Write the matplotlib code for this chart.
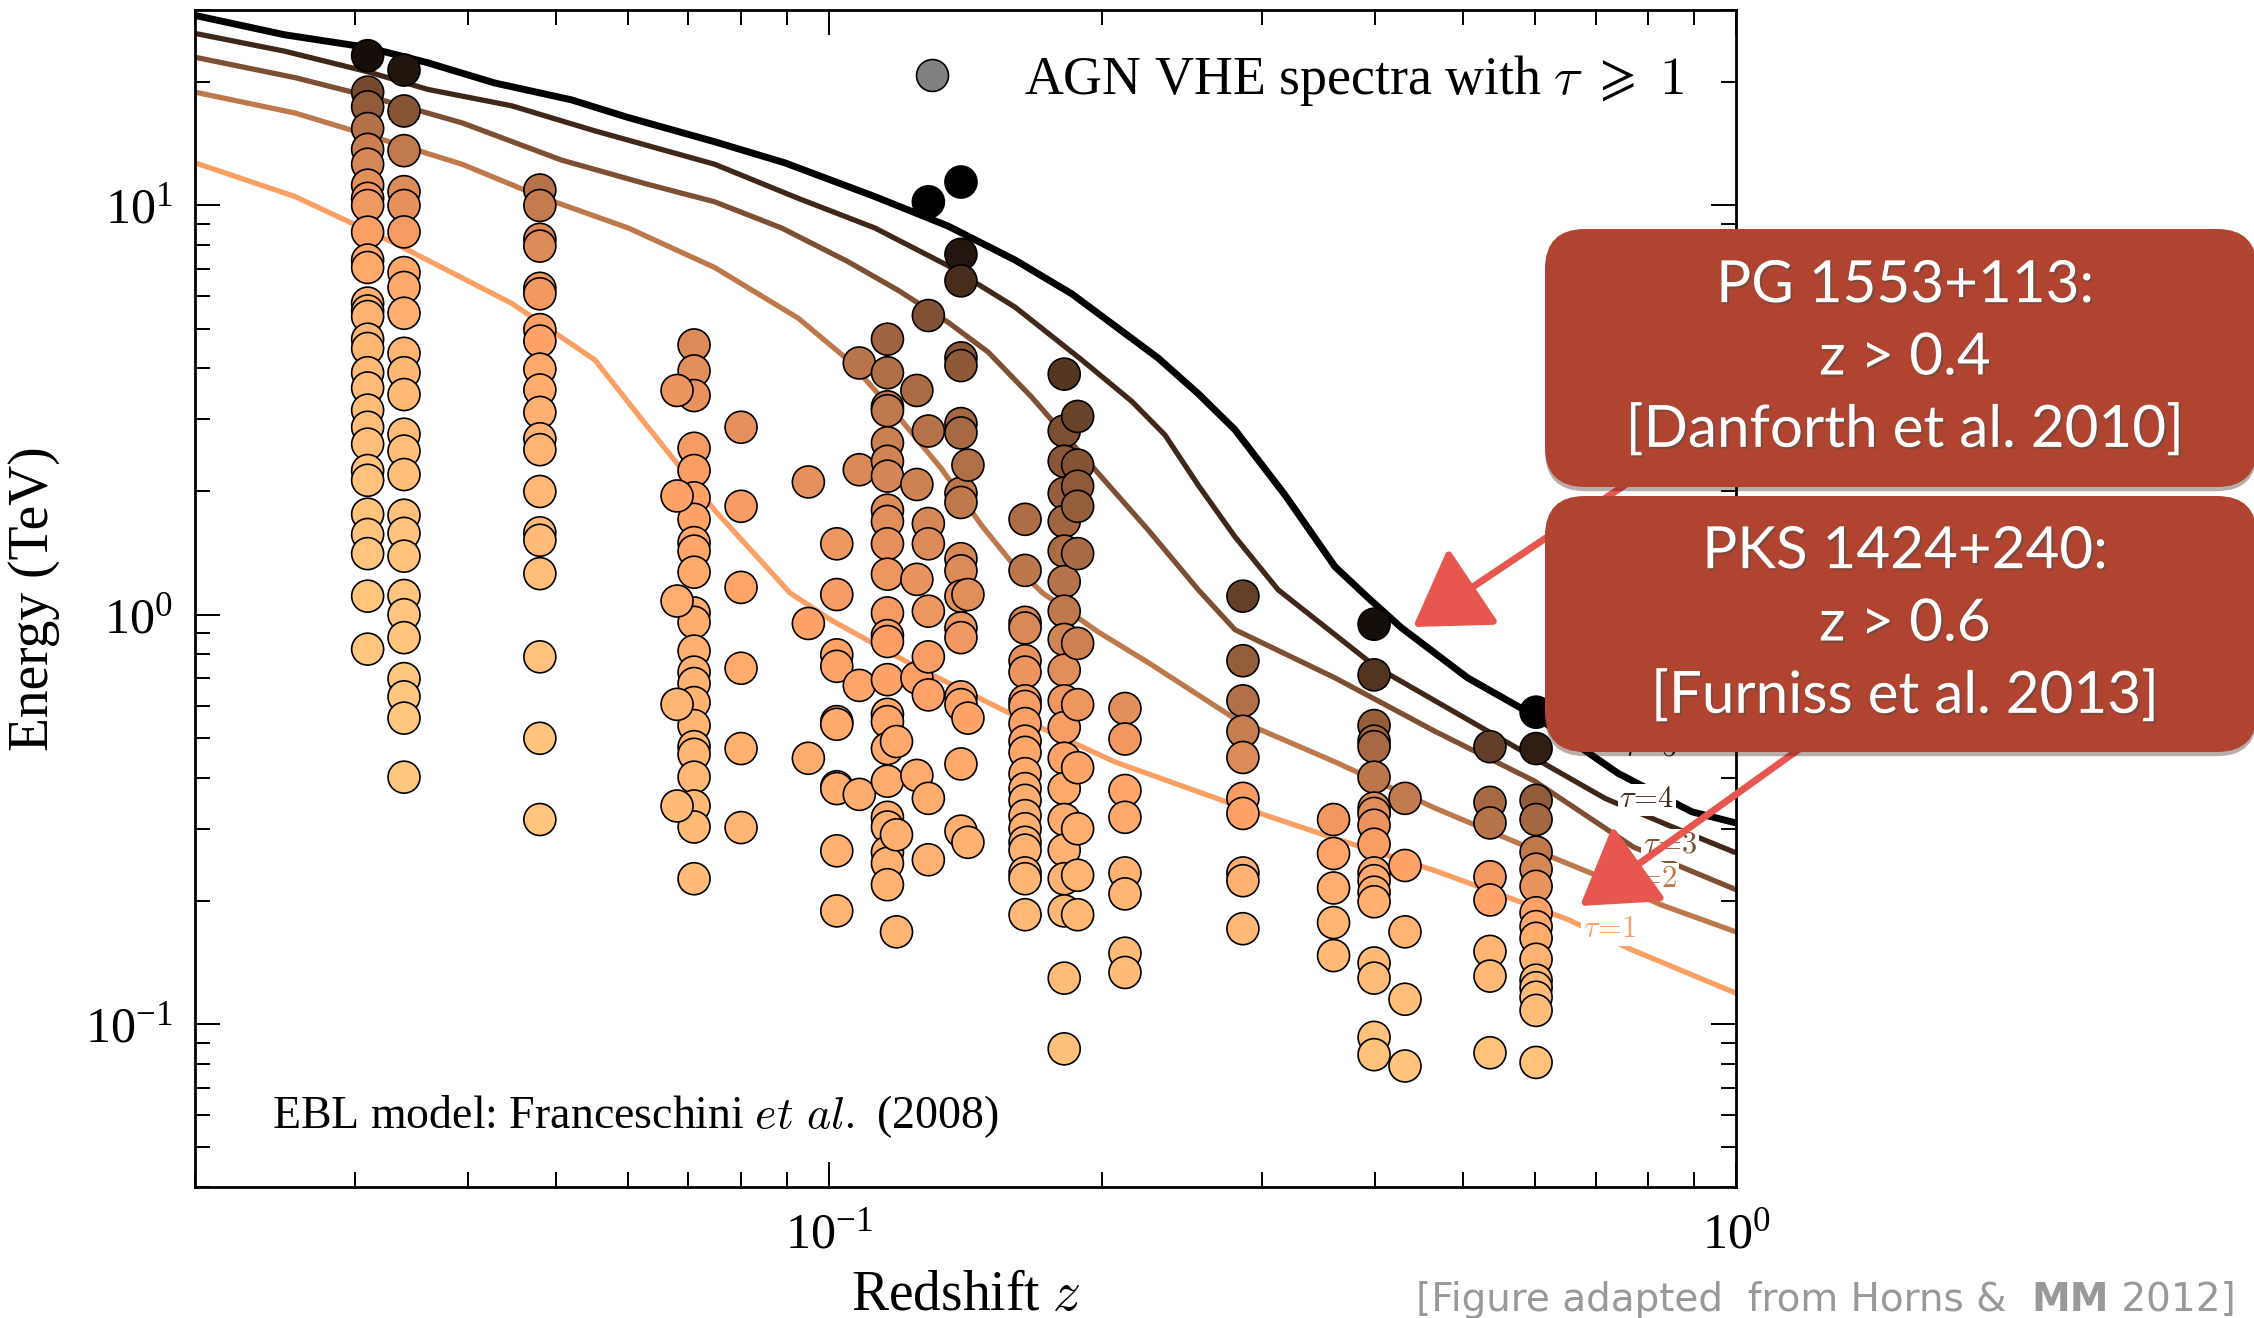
import numpy as np
import matplotlib
matplotlib.use('Agg')
import matplotlib.pyplot as plt
import matplotlib.patheffects as pe
from matplotlib.lines import Line2D
from matplotlib.patches import FancyBboxPatch, FancyArrowPatch
from matplotlib.text import Annotation
from matplotlib.colors import Normalize
from matplotlib.ticker import NullFormatter

plt.rcParams['font.family'] = 'serif'
plt.rcParams['font.serif'] = ['Liberation Serif', 'DejaVu Serif']
plt.rcParams['mathtext.fontset'] = 'cm'

################################################################################
# optical depth curves (Franceschini 2008)

tau_levels = [1, 2, 3, 4, 5]

tau1_z = [0.020, 0.0258, 0.0332, 0.0447, 0.0552, 0.0627, 0.0748, 0.0906, 0.1007,
          0.1244, 0.1604, 0.2066, 0.2803, 0.3613, 0.4657, 0.600, 0.653, 0.767, 1.0]
tau1_E = [12.7, 10.5, 8.08, 5.76, 4.19, 2.93, 1.80, 1.13, 0.968,
          0.748, 0.566, 0.437, 0.343, 0.284, 0.237, 0.193, 0.180, 0.152, 0.119]

tau2_z = [0.020, 0.0258, 0.0318, 0.0394, 0.0486, 0.0601, 0.0748, 0.0925, 0.105, 0.1192,
          0.1331, 0.1474, 0.1604, 0.172, 0.198, 0.2249, 0.2803, 0.3613, 0.4657, 0.600,
          0.708, 0.8246, 1.0]
tau2_E = [18.9, 16.8, 14.6, 12.6, 10.4, 8.80, 7.05, 5.30, 4.19, 3.05,
          2.27, 1.65, 1.31, 1.13, 0.908, 0.764, 0.557, 0.437, 0.337, 0.266,
          0.229, 0.196, 0.168]

tau3_z = [0.020, 0.0258, 0.031, 0.0394, 0.0507, 0.0627, 0.0748, 0.0887, 0.105, 0.1192,
          0.1353, 0.1498, 0.1673, 0.190, 0.2249, 0.2554, 0.2803, 0.3613, 0.4657, 0.600,
          0.770, 1.0]
tau3_E = [23.0, 20.5, 18.5, 15.9, 12.9, 11.3, 10.2, 8.80, 7.28, 6.20,
          5.18, 4.38, 3.40, 2.46, 1.61, 1.15, 0.919, 0.701, 0.519, 0.392,
          0.271, 0.213]

tau4_z = [0.020, 0.0251, 0.031, 0.0361, 0.0447, 0.0552, 0.0748, 0.0925, 0.1124, 0.1353,
          0.1604, 0.190, 0.2157, 0.2346, 0.2554, 0.2803, 0.3128, 0.400, 0.507, 0.600,
          0.717, 0.839, 1.0]
tau4_E = [26.3, 23.8, 21.2, 19.2, 17.5, 15.2, 12.6, 10.4, 8.80, 7.12,
          5.64, 4.19, 3.32, 2.75, 2.07, 1.55, 1.15, 0.748, 0.553, 0.446,
          0.356, 0.307, 0.262]

tau5_z = [0.020, 0.0251, 0.031, 0.0361, 0.0428, 0.052, 0.060, 0.0748, 0.0894, 0.1124,
          0.1353, 0.1604, 0.1852, 0.2305, 0.2552, 0.2803, 0.3183, 0.3613, 0.393, 0.428,
          0.506, 0.600, 0.741, 0.894, 1.0]
tau5_E = [29.1, 26.1, 24.3, 22.3, 19.9, 18.1, 16.4, 14.3, 12.7, 10.5,
          8.9, 7.35, 6.08, 4.24, 3.47, 2.83, 1.96, 1.31, 1.10, 0.928,
          0.701, 0.566, 0.41, 0.33, 0.31]

# inline label positions for the curves
label_z = [0.726, 0.804, 0.846, 0.798, 0.804]
label_E = [0.170, 0.2255, 0.274, 0.353, 0.473]

################################################################################
# AGN VHE spectral points, one list of energies (TeV) per redshift

col_z = [0.031, 0.034, 0.048, 0.071, 0.068, 0.080, 0.0949, 0.102, 0.108, 0.116,
         0.1187, 0.125, 0.1287, 0.1398, 0.1423, 0.1645, 0.1817, 0.188, 0.212, 0.286,
         0.360, 0.399, 0.4316, 0.5355, 0.602]
col_E = [
  [23.2, 18.9, 17.4, 15.4, 13.7, 12.6, 11.2, 10.4, 9.99, 8.6, 7.35, 7.05, 5.77, 5.52,
   5.35, 4.71, 4.47, 3.90, 3.58, 3.16, 2.87, 2.61, 2.25, 2.13, 1.76, 1.57, 1.41, 1.11, 0.824],
  [21.4, 17.0, 13.6, 10.8, 9.99, 8.61, 6.85, 6.30, 5.45, 4.35, 3.90, 3.45, 2.76, 2.51,
   2.20, 1.75, 1.58, 1.39, 1.114, 1.00, 0.879, 0.698, 0.630, 0.559, 0.401],
  [10.9, 9.99, 8.26, 7.95, 6.27, 6.08, 4.97, 4.66, 3.98, 3.54, 3.12, 2.69, 2.53, 2.00,
   1.585, 1.52, 1.26, 0.789, 0.499, 0.316],
  [4.56, 3.94, 3.43, 2.55, 2.25, 1.93, 1.71, 1.50, 1.43, 1.27, 1.01, 0.958, 0.815, 0.724,
   0.679, 0.610, 0.536, 0.476, 0.456, 0.401, 0.341, 0.303, 0.2265],
  [3.53, 1.95, 1.08, 0.604, 0.341],
  [2.87, 1.84, 1.166, 0.740, 0.471, 0.302],
  [2.11, 0.952, 0.446],
  [1.49, 1.12, 0.798, 0.748, 0.548, 0.540, 0.380, 0.376, 0.265, 0.189],
  [4.12, 2.26, 0.672, 0.364],
  [4.71, 3.90, 3.22, 3.15, 2.63, 2.37, 2.18, 1.80, 1.69, 1.49, 1.256, 1.01, 0.889, 0.860,
   0.694, 0.571, 0.548, 0.471, 0.392, 0.320, 0.303, 0.263, 0.247, 0.219],
  [0.49, 0.29, 0.168],
  [3.53, 2.08, 1.22, 0.701, 0.405],
  [10.2, 5.38, 2.81, 1.67, 1.49, 1.02, 0.789, 0.637, 0.356, 0.252],
  [11.4, 7.59, 6.54, 4.24, 4.06, 2.93, 2.78, 1.98, 1.88, 1.37, 1.28, 1.11, 0.928, 0.879,
   0.630, 0.603, 0.432, 0.296],
  [2.32, 1.12, 0.559, 0.278],
  [1.71, 1.283, 0.958, 0.928, 0.772, 0.724, 0.616, 0.597, 0.542, 0.491, 0.461, 0.409,
   0.376, 0.352, 0.323, 0.300, 0.278, 0.266, 0.234, 0.2265, 0.185],
  [3.87, 2.81, 2.37, 1.98, 1.69, 1.43, 1.204, 1.02, 0.870, 0.732, 0.616, 0.530, 0.446,
   0.376, 0.316, 0.266, 0.2265, 0.189, 0.1295, 0.087],
  [3.05, 2.32, 2.06, 1.84, 1.41, 0.851, 0.603, 0.423, 0.300, 0.231, 0.185],
  [0.590, 0.497, 0.372, 0.320, 0.234, 0.208, 0.149, 0.1337],
  [1.11, 0.772, 0.616, 0.519, 0.448, 0.356, 0.327, 0.234, 0.224, 0.171],
  [0.316, 0.261, 0.215, 0.177, 0.147],
  [0.948, 0.713, 0.536, 0.491, 0.476, 0.401, 0.337, 0.327, 0.306, 0.275, 0.234, 0.224,
   0.210, 0.199, 0.141, 0.1295, 0.0928, 0.0842],
  [0.356, 0.244, 0.168, 0.115, 0.079],
  [0.476, 0.348, 0.310, 0.229, 0.201, 0.1505, 0.131, 0.0851],
  [0.578, 0.471, 0.352, 0.316, 0.263, 0.239, 0.217, 0.187, 0.173, 0.162, 0.144, 0.128,
   0.1227, 0.1163, 0.108, 0.0806],
]

################################################################################

curves = [(tau1_z, tau1_E), (tau2_z, tau2_E), (tau3_z, tau3_E),
          (tau4_z, tau4_E), (tau5_z, tau5_E)]

cmap = plt.get_cmap('copper_r')
norm = Normalize(0, 5)

# optical depth of a point, from the curves (log-log interpolation)
def tau_of(z, E):
  lz = np.log10(z)
  lc = np.array([np.interp(lz, np.log10(cz), np.log10(cE)) for cz, cE in curves])
  lt = np.log10(tau_levels)
  lE = np.log10(E)
  if lE <= lc[0]:
    slope = (lt[1]-lt[0])/(lc[1]-lc[0])
    return 10**(lt[0] + slope*(lE-lc[0]))
  return 10**np.interp(lE, lc, lt)

pts_z = np.concatenate([[z]*len(E) for z, E in zip(col_z, col_E)])
pts_E = np.concatenate(col_E)
pts_tau = np.array([tau_of(z, E) for z, E in zip(pts_z, pts_E)])

################################################################################

W, H = 2254, 1318
fig = plt.figure(figsize=(W/100, H/100), dpi=100)
ax = fig.add_axes([195/W, 1-1187/H, 1541/W, 1177/H])

for tau, (cz, cE) in zip(tau_levels, curves):
  ax.plot(cz, cE, c=cmap(norm(tau)), lw=5 if tau == 5 else 3.8, zorder=2,
          solid_joinstyle='round')

ax.scatter(pts_z, pts_E, c=pts_tau, cmap=cmap, norm=norm, s=530,
           edgecolors='black', linewidths=1.2, zorder=3)

for tau, zl, El in zip(tau_levels, label_z, label_E):
  ax.text(zl, El, rf'$\tau\!=\!{tau}$', color=cmap(norm(tau)), fontsize=22,
          ha='center', va='center', zorder=4,
          bbox=dict(fc='white', ec='none', pad=1))

ax.set_xscale('log')
ax.set_yscale('log')
ax.set_xlim(0.02, 1)
ax.set_ylim(0.04, 30)
ax.xaxis.set_minor_formatter(NullFormatter())
ax.yaxis.set_minor_formatter(NullFormatter())
ax.tick_params(which='both', direction='in', top=True, right=True, width=1.4)
ax.tick_params(which='major', length=18, labelsize=36)
ax.tick_params(which='minor', length=11)
ax.tick_params(axis='x', which='major', pad=18)
ax.tick_params(axis='y', which='major', pad=16)
for s in ax.spines.values():
  s.set_linewidth(2)

ax.set_xlabel(r'Redshift $z$', fontsize=40, labelpad=8)
ax.set_ylabel('Energy (TeV)', fontsize=40, labelpad=18)

ax.text(0.050, 0.0504, r'EBL model: Franceschini $et\ al.$ (2008)', fontsize=33,
        transform=ax.transAxes, va='baseline')

h = Line2D([], [], ls='none', marker='o', ms=23, mfc='#808080', mec='black', mew=1.2)
ax.legend([h], [r'AGN VHE spectra with $\tau\;\geqslant\;1$'], loc='center right',
          bbox_to_anchor=(0.966, 0.9405), frameon=False, fontsize=38.8,
          handlelength=1.0, handletextpad=1.2, borderpad=0, borderaxespad=0)

################################################################################
# slide overlays: arrows and callout boxes, in pixels from top-left

def f(x, y):
  return (x/W, 1-y/H)

arrow_c = '#E8574F'
for tail, tip in [((1625, 485), (1413, 627)), ((1805, 745), (1580, 906))]:
  fig.add_artist(FancyArrowPatch(f(*tail), f(*tip), transform=fig.transFigure,
    arrowstyle='-|>,head_length=0.95,head_width=0.6', mutation_scale=48,
    lw=5, color=arrow_c, shrinkA=0, shrinkB=0, zorder=5))

box_c = '#B04430'
boxes = [(229, 487, 'PG 1553+113:\nz > 0.4\n[Danforth et al. 2010]'),
         (496, 752, 'PKS 1424+240:\nz > 0.6\n[Furniss et al. 2013]')]
for y0, y1, txt in boxes:
  fig.add_artist(FancyBboxPatch((1545/100, (H-y1)/100), 7.12, (y1-y0)/100,
    boxstyle='round,pad=0,rounding_size=0.4', transform=fig.dpi_scale_trans,
    fc=box_c, ec='none', zorder=6,
    path_effects=[pe.withSimplePatchShadow(offset=(0, -3), alpha=0.35)]))
  fig.text(1905/W, 1-(y0+y1)/2/H, txt, ha='center', va='center', color='white',
           fontsize=42, family='Lato', linespacing=1.45, zorder=7,
           path_effects=[pe.withSimplePatchShadow(offset=(1.5, -1.5), alpha=0.5)])

cite_kw = dict(fontsize=28, family='DejaVu Sans', color='#999999', zorder=7)
t1 = fig.text(1416/W, 1-1311/H, '[Figure adapted  from Horns &  ', va='baseline',
              **cite_kw)
t2 = Annotation('MM', xy=(1, 0), xycoords=t1, va='bottom', weight='bold', **cite_kw)
fig.add_artist(t2)
t3 = Annotation(' 2012]', xy=(1, 0), xycoords=t2, va='bottom', **cite_kw)
fig.add_artist(t3)

fig.savefig('out.png', dpi=100, facecolor='white')
